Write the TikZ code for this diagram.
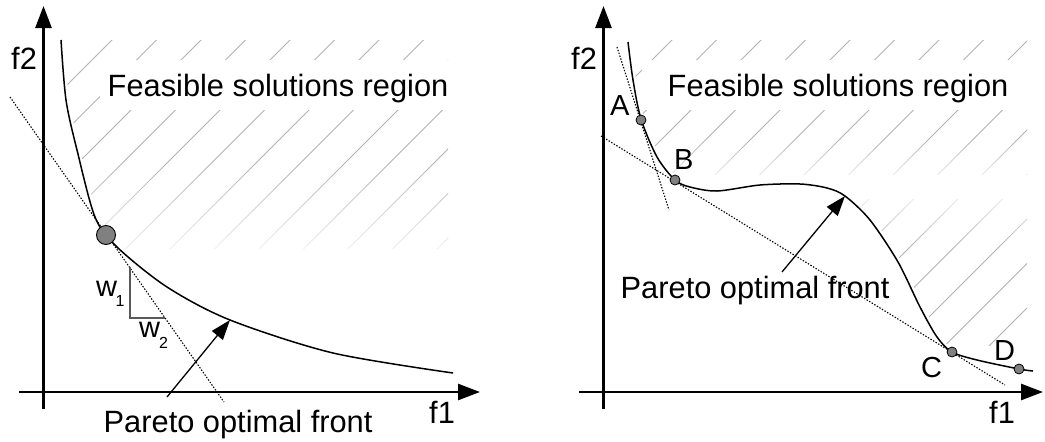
\documentclass[tikz,border=0pt]{standalone}
\usepackage{fontspec}
\setmainfont{Liberation Sans}
\usetikzlibrary{arrows.meta,fadings}
\tikzfading[name=fadedown, top color=transparent!100, bottom color=transparent!0]
\tikzfading[name=fadeup, top color=transparent!0, bottom color=transparent!100]
\begin{document}
\begin{tikzpicture}[x=1pt,y=-1pt,
  axis/.style={line width=2.6pt,-{Triangle[length=22pt,width=16pt]}},
  front/.style={line width=1.5pt},
  halo/.style={white,line width=6pt},
  tangent/.style={line width=1.1pt,dash pattern=on 1.4pt off 1.6pt},
  hatch/.style={gray!60,line width=0.9pt},
  pointer/.style={line width=1.3pt,-{Triangle[length=20pt,width=14pt]}},
  bigdot/.style={circle,draw=black,line width=0.9pt,fill=gray,minimum size=19pt,inner sep=0pt},
  smalldot/.style={circle,draw=black,line width=0.8pt,fill=gray,minimum size=10pt,inner sep=0pt},
  bigtext/.style={anchor=base west,inner sep=0pt,font=\fontsize{30.8}{36}\selectfont},
  ptlabel/.style={anchor=base west,inner sep=0pt,font=\fontsize{29}{34}\selectfont},
  wlabel/.style={anchor=base west,inner sep=0pt,font=\fontsize{29}{34}\selectfont},
  weight/.style={black!65,line width=1.2pt},
]
\useasboundingbox (0,0) rectangle (1045,442);

% ================= LEFT PANEL =================
\begin{scope}
  \clip (55,40) rectangle (448,248);
  \clip plot[smooth] coordinates {(61,40) (66,100) (77,150) (95,217) (117,247) (167,287) (230,320) (333,353) (453,373)}
        -- (470,380) -- (470,30) -- (55,30) -- cycle;
  \foreach \c in {152,196.5,...,760} \draw[hatch] ({\c-300},300) -- ({\c+20},-20);
  \fill[white, path fading=fadedown] (50,160) rectangle (455,270);
\end{scope}
\fill[white] (100,60) rectangle (450,110);
\node[bigtext] (feasL) at (107.5,96) {Feasible solutions region};

\coordinate (yL0) at (43.5,409);
\coordinate (yL1) at (43.5,6);
\coordinate (xL0) at (19,392);
\coordinate (xL1) at (480,392);
\draw[axis] (yL0) -- (yL1);
\draw[axis] (xL0) -- (xL1);
\node[bigtext] (f2L) at (11,69) {f2};
\node[bigtext] (f1L) at (429,423) {f1};

\draw[halo] plot[smooth] coordinates {(61,40) (66,100) (77,150) (95,217) (117,247) (167,287) (230,320) (333,353) (453,373)};
\coordinate (tL0) at (10,97);
\coordinate (tL1) at (224,402);
\draw[tangent] (tL0) -- (tL1);
\draw[front] plot[smooth] coordinates {(61,40) (66,100) (77,150) (95,217) (117,247) (167,287) (230,320) (333,353) (453,373)};
\node[bigdot] (opt) at (106,235) {};

\coordinate (wtop) at (130,267);
\coordinate (wcorner) at (130,318);
\coordinate (wright) at (165,318);
\draw[weight] (wtop) -- (wcorner) -- (wright);
\node[wlabel] (w1) at (96,296) {w\kern-1.5pt\raisebox{-10pt}{\fontsize{16}{16}\selectfont 1}};
\node[wlabel] (w2) at (139,337) {w\kern-1pt\raisebox{-11pt}{\fontsize{16}{16}\selectfont 2}};

\coordinate (pLtail) at (167,397);
\coordinate (pLtip) at (230,320);
\draw[pointer] (pLtail) -- (pLtip);
\node[bigtext] (paretoL) at (103.5,432) {Pareto optimal front};

% ================= RIGHT PANEL =================
\begin{scope}
  \clip (620,40) rectangle (1027,345);
  \clip plot[smooth] coordinates {(628,42) (633,80) (641,119) (657,157) (675,180) (690,187) (717,191) (760,185) (800,184) (827,188) (845,196) (870,220) (898,262) (920,307) (937,337) (952,352) (977,360) (1019,369) (1033,371)}
        -- (1045,371) -- (1045,30) -- (620,30) -- cycle;
  \foreach \c in {712,756.5,...,1420} \draw[hatch] ({\c-400},400) -- ({\c+20},-20);
  \fill[white, path fading=fadedown] (615,138) rectangle (1035,188);
  \fill[white] (615,175) rectangle (1035,199);
  \fill[white, path fading=fadeup] (615,181) rectangle (1035,249);
\end{scope}
\fill[white] (642,60) rectangle (1030,110);
\node[bigtext] (feasR) at (667.5,96) {Feasible solutions region};

\coordinate (yR0) at (603.5,409);
\coordinate (yR1) at (603.5,6);
\coordinate (xR0) at (579,392);
\coordinate (xR1) at (1043,392);
\draw[axis] (yR0) -- (yR1);
\draw[axis] (xR0) -- (xR1);
\node[bigtext] (f2R) at (571,69) {f2};
\node[bigtext] (f1R) at (989,423) {f1};

\draw[halo] plot[smooth] coordinates {(628,42) (633,80) (641,119) (657,157) (675,180) (690,187) (717,191) (760,185) (800,184) (827,188) (845,196) (870,220) (898,262) (920,307) (937,337) (952,352) (977,360) (1019,369) (1033,371)};
\coordinate (tA0) at (617,47);
\coordinate (tA1) at (669,210);
\coordinate (tB0) at (601,136);
\coordinate (tB1) at (1005,385);
\draw[tangent] (tA0) -- (tA1);
\draw[tangent] (tB0) -- (tB1);
\draw[front] plot[smooth] coordinates {(628,42) (633,80) (641,119) (657,157) (675,180) (690,187) (717,191) (760,185) (800,184) (827,188) (845,196) (870,220) (898,262) (920,307) (937,337) (952,352) (977,360) (1019,369) (1033,371)};

\node[smalldot] (A) at (641,120) {};
\node[smalldot] (B) at (675,180) {};
\node[smalldot] (C) at (952,352) {};
\node[smalldot] (D) at (1019,369) {};
\node[ptlabel] (Alab) at (610,115) {A};
\node[ptlabel] (Blab) at (674,169) {B};
\node[ptlabel] (Clab) at (921,377) {C};
\node[ptlabel] (Dlab) at (994,360) {D};

\coordinate (pRtail) at (782,272);
\coordinate (pRtip) at (845,196);
\draw[pointer] (pRtail) -- (pRtip);
\node[bigtext] (paretoR) at (620.5,298) {Pareto optimal front};
\end{tikzpicture}
\end{document}
